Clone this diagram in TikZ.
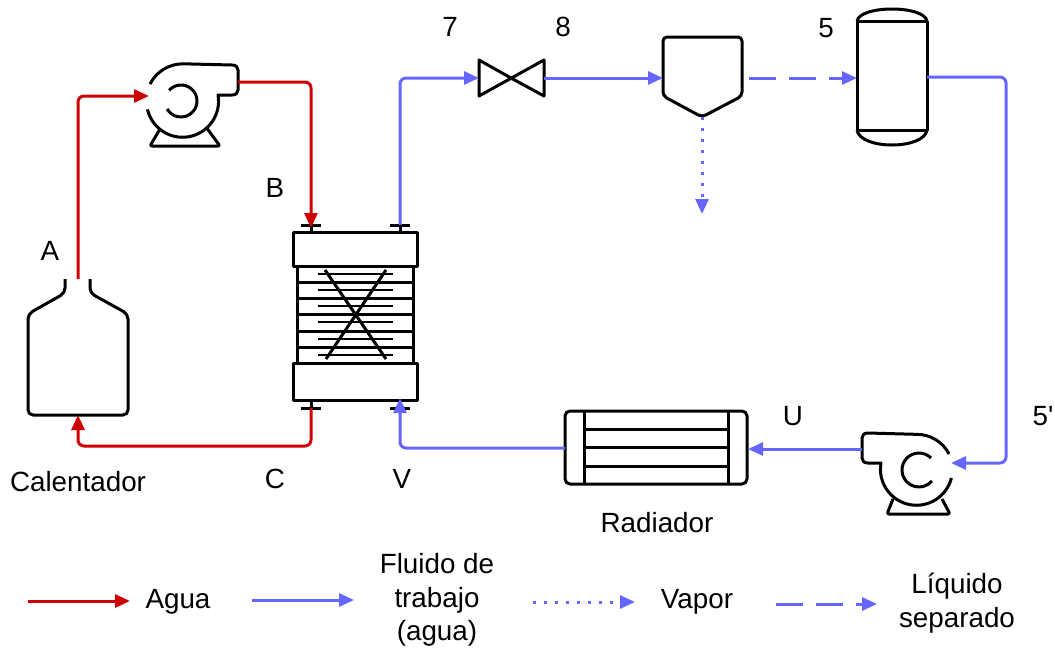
\documentclass[tikz,border=0pt]{standalone}
\usepackage{fontspec}
\setmainfont{Liberation Sans}
\newfontfamily\rawsans{Liberation Sans}
\usetikzlibrary{arrows.meta}
\definecolor{redw}{HTML}{CC0000}
\definecolor{bluew}{HTML}{6666FF}
\tikzset{
  equip/.style={draw=black,line width=3pt,line join=round,rounded corners=5pt},
  plain/.style={draw=black,line width=3pt,line join=round},
  flow/.style={line width=3pt,rounded corners=6pt,-{Triangle[length=15pt,width=13pt]}},
  water/.style={flow,draw=redw},
  work/.style={flow,draw=bluew},
  vapourflow/.style={work,dash pattern=on 3pt off 8pt},
  liquidflow/.style={work,dash pattern=on 27pt off 13pt},
  lab/.style={font=\fontsize{27.8}{33.7}\selectfont,inner sep=0pt,align=center,text=black},
  fixh/.style={lab,text height=19pt,text depth=6pt},
}
\begin{document}
\begin{tikzpicture}[x=1pt,y=1pt,yscale=-1]
\useasboundingbox (0,0) rectangle (1055,649);
% connection points
\coordinate (heatTop) at (78,279);
\coordinate (heatBot) at (78,415);
\coordinate (pumpAin) at (149,96);
\coordinate (pumpAout) at (238,82);
\coordinate (hxRedIn) at (311,228);
\coordinate (hxRedOut) at (311,408);
\coordinate (hxBlueOut) at (400,225);
\coordinate (hxBlueIn) at (400,398);
\coordinate (valveIn) at (479,78);
\coordinate (valveOut) at (544,78);
\coordinate (sepIn) at (663,78);
\coordinate (sepOutL) at (749,78);
\coordinate (sepTip) at (702,117);
\coordinate (vapEnd) at (702,214);
\coordinate (tankIn) at (857,78);
\coordinate (tankOut) at (927,77);
\coordinate (pumpBin) at (951,463);
\coordinate (pumpBout) at (862,449);
\coordinate (radIn) at (748,449);
\coordinate (radOut) at (565,448);
% pump A
\draw[plain] (150,84) arc[start angle=207,end angle=270,radius=37pt] -- (232,65)
  .. controls (236,65) and (238,67) .. (238,70) -- (238,90)
  .. controls (238,93) and (236,95) .. (232,95) -- (218,95)
  arc[start angle=-10,end angle=167,radius=36pt];
\draw[plain] (181,101) ++(222:16pt) arc[start angle=222,end angle=510,radius=16pt];
\draw[equip,rounded corners=2pt] (160,129) -- (150,146) -- (220,146) -- (206,127);
% pump B
\draw[plain] (949,454) arc[start angle=-27,end angle=-90,radius=36pt] -- (868,433)
  .. controls (864,433) and (862,435) .. (862,438) -- (862,458)
  .. controls (862,461) and (864,463) .. (868,463) -- (881,463)
  arc[start angle=190,end angle=14,radius=36pt];
\draw[plain] (919,470) ++(-45:17pt) arc[start angle=-45,end angle=-320,radius=17pt];
\draw[equip,rounded corners=2pt] (893,499) -- (887,514) -- (950,514) -- (942,499);
% heater
\draw[equip] (65,279) -- (65,293) -- (28,314) -- (28,415) -- (128,415) -- (128,314) -- (90,293) -- (90,279);
% heat exchanger
\draw[plain] (297,266) -- (297,363) (413,266) -- (413,363);
\foreach \y in {282,298,314,331,347} \draw[plain] (297,\y) -- (413,\y);
\foreach \y in {274,290,306,322,339,355} \draw[plain,line width=2.5pt] (318,\y) -- (393,\y);
\draw[plain] (325,270) -- (386,359) (386,270) -- (326,359);
\draw[plain,fill=white] (293,232) rectangle (417,266);
\draw[plain,fill=white] (293,363) rectangle (417,400);
\draw[plain] (311,225) -- (311,232) (301,225) -- (321,225);
\draw[plain] (400,225) -- (400,232) (390,225) -- (410,225);
\draw[plain] (311,400) -- (311,408) (301,408) -- (321,408);
\draw[plain] (400,400) -- (400,408) (390,408) -- (410,408);
% valve
\draw[plain] (511,78) -- (479,60) -- (479,96) -- (544,60) -- (544,96) -- cycle;
% separator
\draw[equip,rounded corners=4pt] (702,117) -- (663,96) -- (663,37) -- (742,37) -- (742,96) -- cycle;
% tank
\draw[plain] (857,21) rectangle (927,130);
\draw[plain] (857,21) .. controls (860,5) and (924,5) .. (927,21);
\draw[plain] (857,130) .. controls (860,150) and (924,150) .. (927,130);
% radiator
\draw[equip] (565,411) rectangle (747,484);
\draw[plain] (584,411) -- (584,484) (728,411) -- (728,484);
\foreach \y in {429,447.5,466} \draw[plain] (584,\y) -- (728,\y);
% connectors
\draw[water] (heatTop) |- (pumpAin);
\draw[water] (pumpAout) -| (hxRedIn);
\draw[water] (hxRedOut) |- (78,446) -- (heatBot);
\draw[work] (hxBlueOut) |- (valveIn);
\draw[work] (valveOut) -- (sepIn);
\draw[liquidflow] (sepOutL) -- (tankIn);
\draw[vapourflow] (sepTip) -- (vapEnd);
\draw[work] (tankOut) -| (1006,463) -- (pumpBin);
\draw[work] (pumpBout) -- (radIn);
\draw[work] (radOut) -| (hxBlueIn);
% legend
\coordinate (l1a) at (28,601); \coordinate (l1b) at (130,601);
\coordinate (l2a) at (252,600); \coordinate (l2b) at (354,600);
\coordinate (l3a) at (533,602); \coordinate (l3b) at (635,602);
\coordinate (l4a) at (776,604); \coordinate (l4b) at (877,604);
\draw[water] (l1a) -- (l1b);
\draw[work] (l2a) -- (l2b);
\draw[vapourflow] (l3a) -- (l3b);
\draw[liquidflow] (l4a) -- (l4b);
% labels
\node[fixh] (t7) at (450,30) {7};
\node[fixh] (t8) at (563,30) {8};
\node[fixh] (t5) at (826,31) {5};
\node[fixh] (tB) at (275,190.5) {B};
\node[fixh] (tA) at (50,254) {A};
\node[fixh] (tC) at (275,481.5) {C};
\node[fixh] (tV) at (402,481.5) {V};
\node[fixh] (tU) at (793,419) {U};
\node[fixh] (t5p) at (1043,419) {\rawsans 5'};
\node[fixh] (tCal) at (78,484.5) {Calentador};
\node[fixh] (tRad) at (657,525.5) {Radiador};
\node[fixh] (tAgua) at (178,601.5) {Agua};
\node[lab] (tFlu) at (437,600) {Fluido de\\trabajo\\(agua)};
\node[fixh] (tVap) at (697,601.5) {Vapor};
\node[lab] (tLiq) at (957,603) {Líquido\\separado};
\end{tikzpicture}
\end{document}
